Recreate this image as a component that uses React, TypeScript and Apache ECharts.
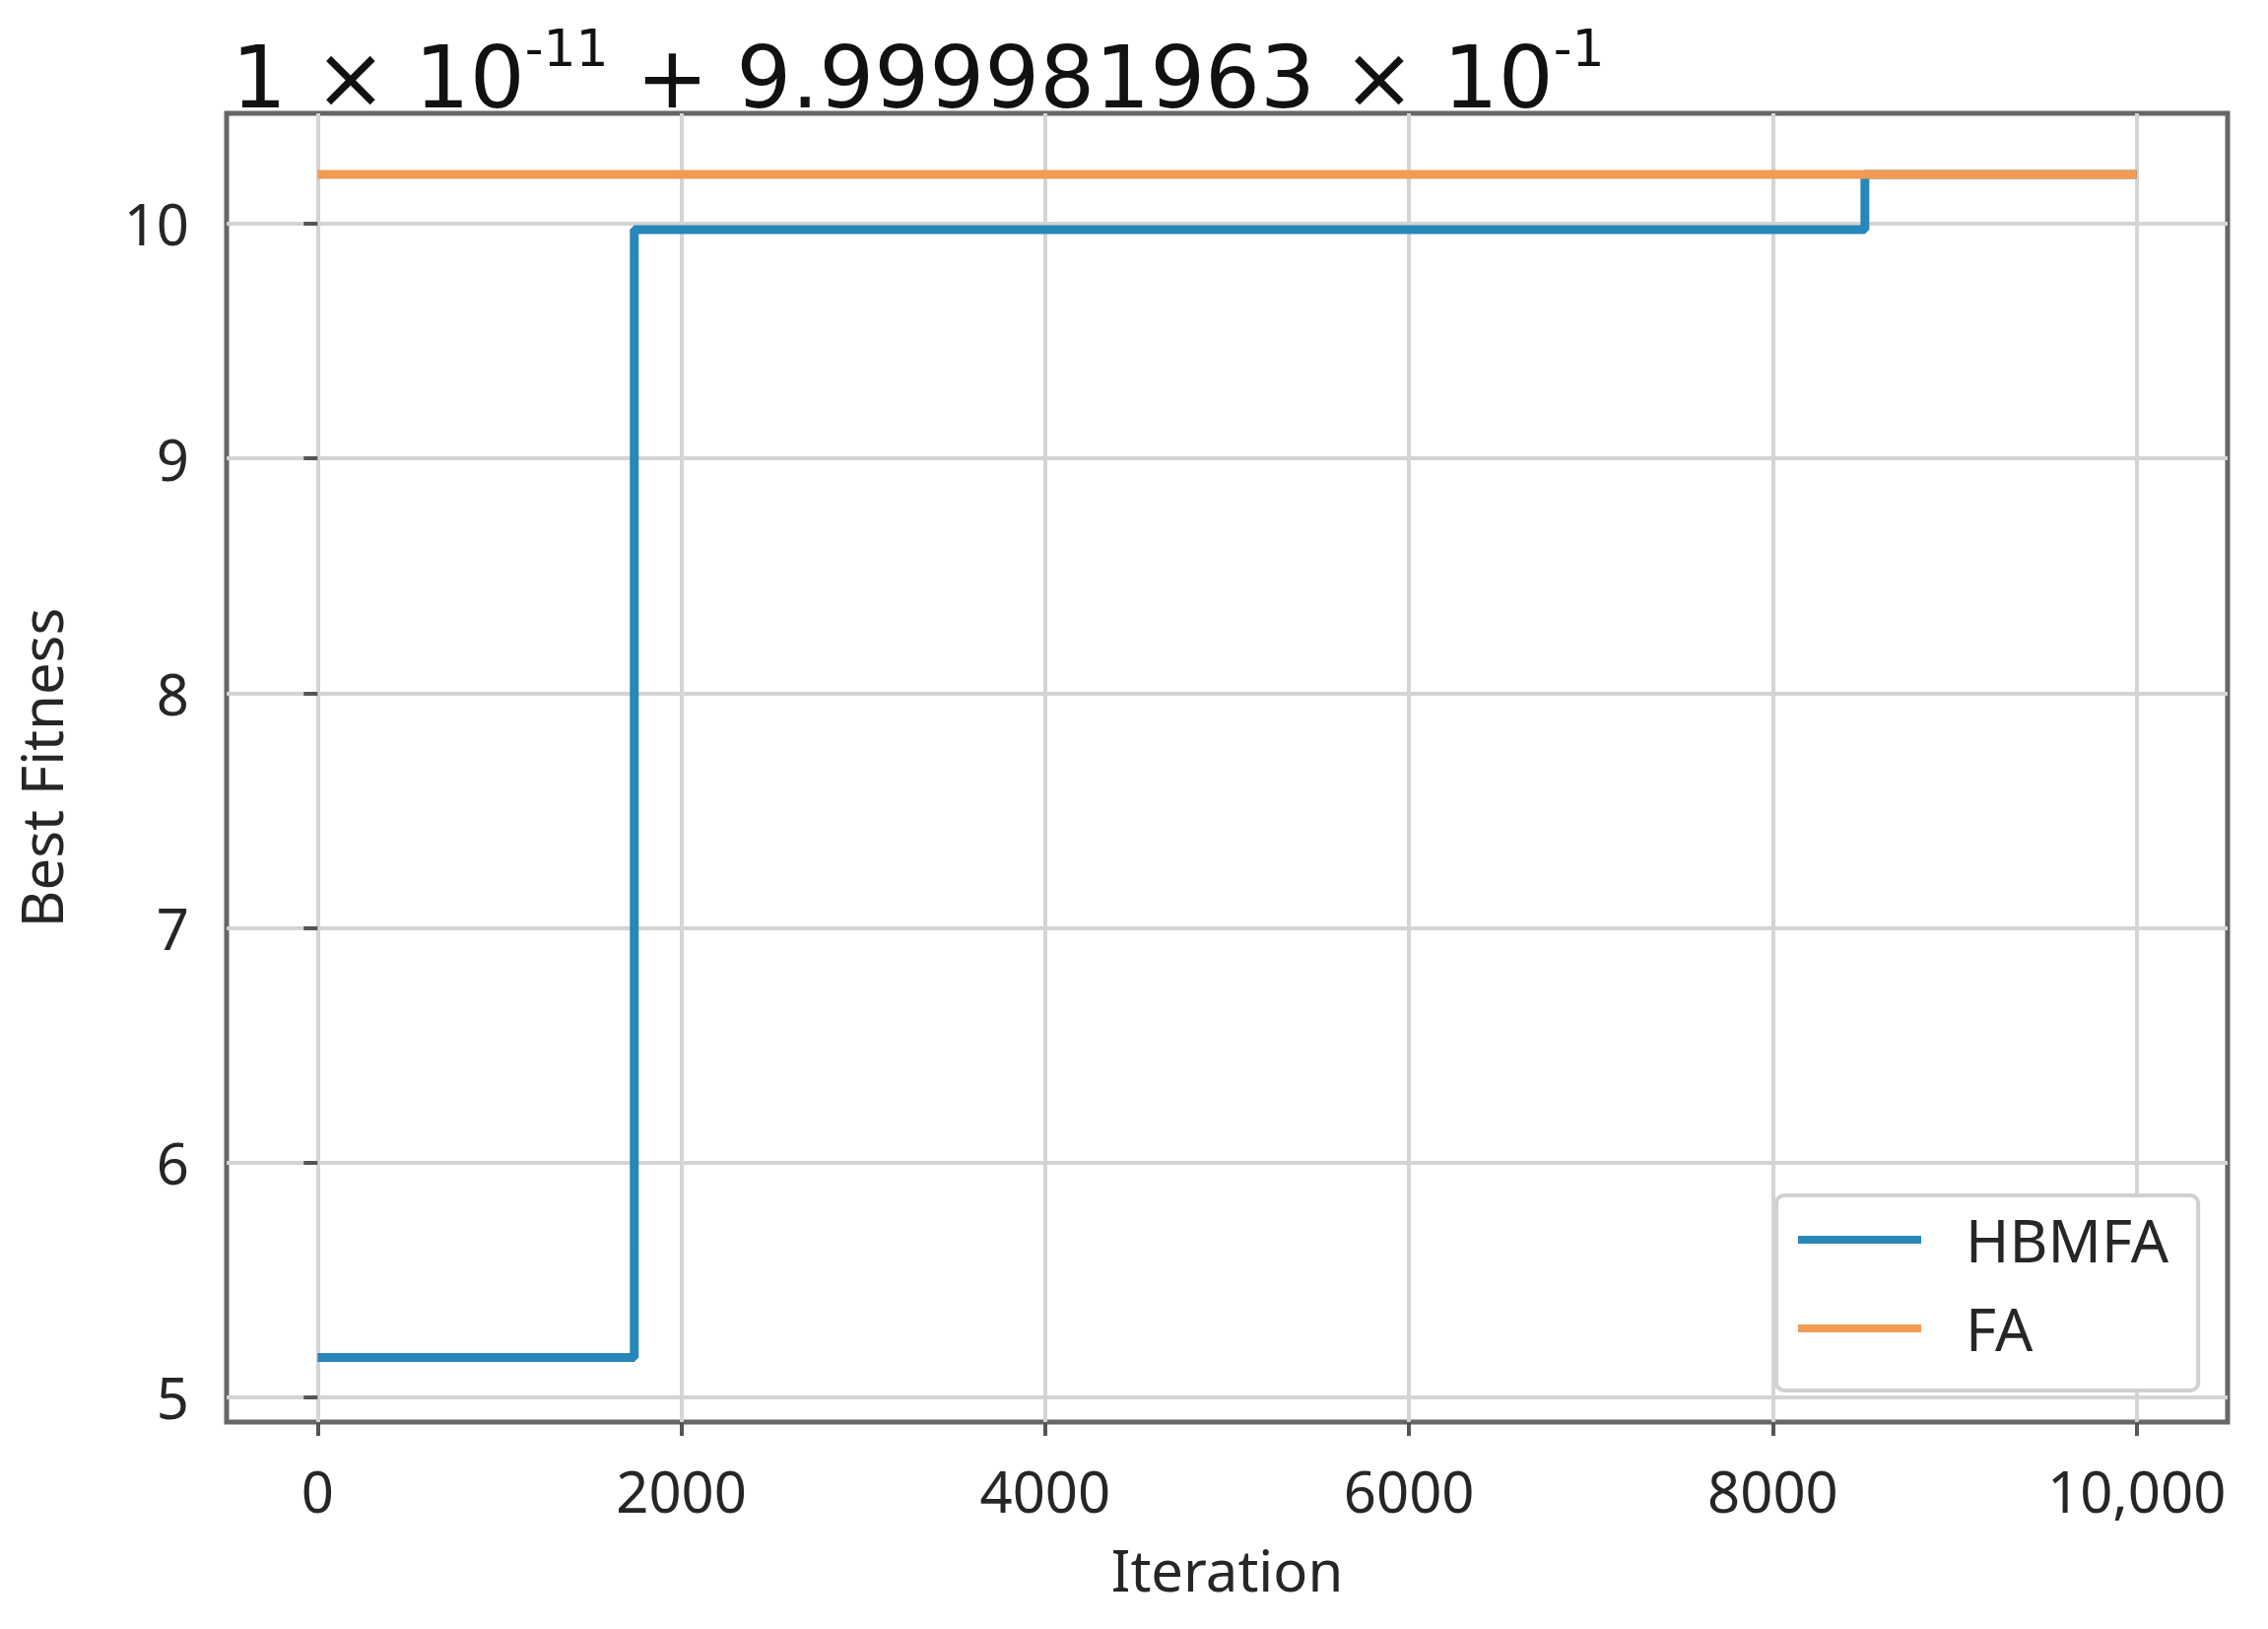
import React, { useEffect, useRef } from "react";
import * as echarts from "echarts";

const hbmfaX = [0, 1741, 1741, 8506, 8506, 10000];
const hbmfaY = [5.17, 5.17, 9.975, 9.975, 10.21, 10.21];
const faX = [0, 10000];
const faY = [10.21, 10.21];
const xTicks = [0, 2000, 4000, 6000, 8000, 10000];
const xTickLabels = ["0", "2000", "4000", "6000", "8000", "10,000"];
const yTicks = [5, 6, 7, 8, 9, 10];
const seriesNames = ["HBMFA", "FA"];

const FONT = "Noto Sans";
const TITLE_FONT = "DejaVu Sans";

export default function App() {
  const ref = useRef<HTMLDivElement>(null);
  useEffect(() => {
    if (!ref.current) return;
    const chart = echarts.init(ref.current, null, { renderer: "svg" });
    const tickColor = "#555";
    const labelColor = "#262626";
    chart.setOption({
      animation: false,
      backgroundColor: "#fff",
      title: {
        text: "1 × 10{sup|-11} + 9.999981963 × 10{sup|-1}",
        left: 230,
        top: 18,
        textStyle: {
          fontFamily: TITLE_FONT,
          fontSize: 88,
          fontWeight: "normal",
          color: "#111",
          lineHeight: 110,
          rich: {
            sup: {
              fontFamily: TITLE_FONT,
              fontSize: 52,
              color: "#111",
              verticalAlign: "top",
              lineHeight: 52,
            },
          },
        },
      },
      grid: {
        left: 230,
        top: 115,
        right: 41,
        bottom: 210,
        show: true,
        borderColor: "#666",
        borderWidth: 5,
        backgroundColor: "transparent",
      },
      legend: {
        data: seriesNames,
        orient: "vertical",
        left: 1803,
        top: 1213,
        icon: "rect",
        itemWidth: 125,
        itemHeight: 8,
        itemGap: 20,
        padding: [10, 30, 28, 22],
        borderColor: "#d0d0d0",
        borderWidth: 4,
        borderRadius: 8,
        backgroundColor: "#fff",
        textStyle: {
          fontFamily: FONT,
          fontSize: 60,
          color: labelColor,
          lineHeight: 70,
          padding: [0, 0, 0, 40],
        },
      },
      xAxis: {
        type: "value",
        min: -500,
        max: 10500,
        name: "Iteration",
        nameLocation: "middle",
        nameGap: 120,
        nameTextStyle: { fontFamily: FONT, fontSize: 58, color: labelColor },
        axisLine: { show: false },
        axisTick: {
          show: true,
          length: 14,
          lineStyle: { color: tickColor, width: 4 },
          customValues: xTicks,
        },
        axisLabel: {
          fontFamily: FONT,
          fontSize: 58,
          color: labelColor,
          margin: 40,
          customValues: xTicks,
          formatter: (v: number) => {
            const i = xTicks.indexOf(v);
            return i >= 0 ? xTickLabels[i] : "";
          },
        },
        splitLine: { show: true, lineStyle: { color: "#d4d4d4", width: 4 } },
      },
      yAxis: {
        type: "value",
        min: 4.895,
        max: 10.47,
        name: "Best Fitness",
        nameLocation: "middle",
        nameGap: 160,
        nameTextStyle: { fontFamily: FONT, fontSize: 58, color: labelColor },
        axisLine: { show: false },
        axisTick: {
          show: true,
          length: 14,
          lineStyle: { color: tickColor, width: 4 },
          customValues: yTicks,
        },
        axisLabel: {
          fontFamily: FONT,
          fontSize: 58,
          color: labelColor,
          margin: 38,
          customValues: yTicks,
          formatter: (v: number) => String(v),
        },
        splitLine: { show: true, lineStyle: { color: "#d4d4d4", width: 4 } },
      },
      series: [
        {
          name: seriesNames[0],
          type: "line",
          symbol: "none",
          data: hbmfaX.map((x, i) => [x, hbmfaY[i]]),
          lineStyle: { color: "#2787b8", width: 9 },
          itemStyle: { color: "#2787b8" },
        },
        {
          name: seriesNames[1],
          type: "line",
          symbol: "none",
          data: faX.map((x, i) => [x, faY[i]]),
          lineStyle: { color: "#f29b55", width: 9 },
          itemStyle: { color: "#f29b55" },
        },
      ],
    });
    return () => chart.dispose();
  }, []);
  return (
    <div
      ref={ref}
      style={{ position: "fixed", left: 0, top: 0, width: 2302, height: 1653 }}
    />
  );
}
